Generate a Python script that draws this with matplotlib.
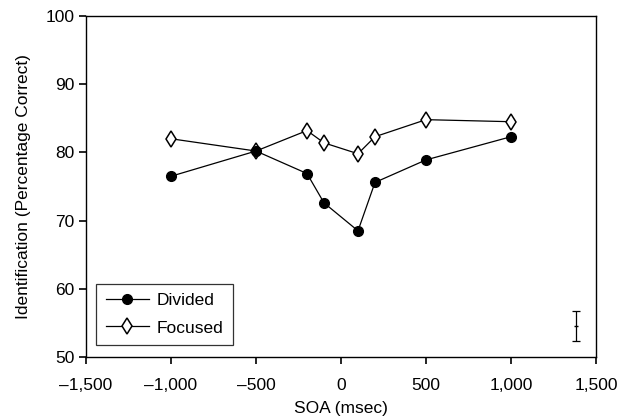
import matplotlib
matplotlib.use("Agg")
import matplotlib.pyplot as plt
from matplotlib.ticker import FuncFormatter

plt.rcParams['font.family'] = ['Liberation Sans', 'DejaVu Sans']

# SOA values (msec)
soa = [-1000, -500, -200, -100, 100, 200, 500, 1000]
divided = [76.5, 80.2, 76.9, 72.6, 68.5, 75.6, 78.9, 82.3]
focused = [82.0, 80.2, 83.2, 81.4, 79.8, 82.3, 84.8, 84.5]

# representative error bar
err_x = [1380]
err_y = [54.5]
err_half = [2.2]

fig = plt.figure(figsize=(6.2, 4.19), dpi=100)
ax = fig.add_axes([86/620, 1 - 357/419, 510/620, 341/419])

ax.plot(soa, focused, '-', color='black', lw=0.9, marker='d', ms=8,
        mfc='white', mec='black', mew=1.1, label='Focused', zorder=2)
ax.plot(soa, divided, '-', color='black', lw=0.9, marker='o', ms=7,
        mfc='black', mec='black', label='Divided', zorder=3)
ax.errorbar(err_x, err_y, yerr=err_half, fmt='_', color='black', ms=3,
            elinewidth=0.9, capsize=3, capthick=0.9)

ax.set_xlim(-1500, 1500)
ax.set_ylim(50, 100)
ax.set_xticks([-1500, -1000, -500, 0, 500, 1000, 1500])
ax.set_yticks([50, 60, 70, 80, 90, 100])


def fmt(v, pos):
    s = '{:,}'.format(int(abs(v)))
    return ('\u2013' + s) if v < 0 else s


ax.xaxis.set_major_formatter(FuncFormatter(fmt))
ax.tick_params(direction='out', length=5, width=1.2, labelsize=12.5, color='black')
ax.tick_params(axis='x', pad=10)
for sp in ax.spines.values():
    sp.set_linewidth(1.0)

ax.set_xlabel('SOA (msec)', fontsize=12.5, labelpad=6)
ax.set_ylabel('Identification (Percentage Correct)', fontsize=12.5, labelpad=10)

h, l = ax.get_legend_handles_labels()
leg = ax.legend(h[::-1], l[::-1], loc='lower left', bbox_to_anchor=(0.02, 0.035),
                fontsize=12.5, frameon=True, fancybox=False, edgecolor='black',
                handlelength=2.5, handletextpad=0.45, borderpad=0.55,
                labelspacing=0.7, borderaxespad=0)
leg.get_frame().set_linewidth(0.9)

fig.savefig('out.png', dpi=100)
